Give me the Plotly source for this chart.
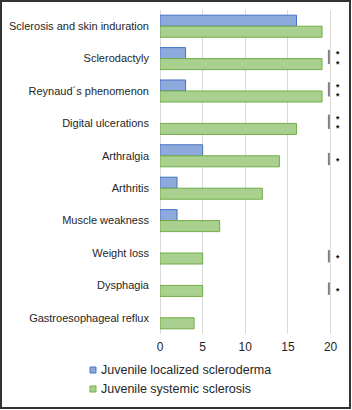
import plotly.graph_objects as go

categories = ["Sclerosis and skin induration", "Sclerodactyly", "Reynaud\u00b4s phenomenon",
              "Digital ulcerations", "Arthralgia", "Arthritis", "Muscle weakness",
              "Weight loss", "Dysphagia", "Gastroesophageal reflux"]
localized = [16, 3, 3, 0, 5, 2, 2, 0, 0, 0]
systemic = [19, 19, 19, 16, 14, 12, 7, 5, 5, 4]
significance = ["", "**", "**", "**", "*", "", "", "*", "*", ""]
x_ticks = [0, 5, 10, 15, 20]
series_names = ["Juvenile localized scleroderma", "Juvenile systemic sclerosis"]
fills = ["#8EA9DB", "#A9D08E"]
edges = ["#4472C4", "#70AD47"]

FONT = "Liberation Sans, Arial, sans-serif"
W, H = 352, 410
ML, MR, MT, MB = 160, 18, 10, 76
XMAX = 20.4
pw, ph = W - ML - MR, H - MT - MB


def px_x(px):
    return (px - ML) / pw


def px_y(py):
    return (H - MB - py) / ph


fig = go.Figure()
for vals, name, fc, ec in zip([localized, systemic], series_names, fills, edges):
    fig.add_trace(go.Bar(y=categories, x=vals, orientation="h", name=name,
                         marker=dict(color=fc, line=dict(color=ec, width=[1 if v else 0 for v in vals]))))

shapes = []
annotations = []
for i, s in enumerate(significance):
    if not s:
        continue
    if len(s) == 2:
        yl0, yl1, stars = i - 0.27, i + 0.17, [i - 0.2, i + 0.095]
    else:
        yl0, yl1, stars = i - 0.09, i + 0.29, [i + 0.1]
    shapes.append(dict(type="line", xref="x", yref="y", x0=19.8, x1=19.8, y0=yl0, y1=yl1,
                       line=dict(color="#808080", width=2)))
    for ys in stars:
        annotations.append(dict(x=20.85 / XMAX, y=ys, xref="paper", yref="y", text="<b>*</b>",
                                showarrow=False, font=dict(family=FONT, size=8.5, color="#000"),
                                xanchor="center", yanchor="middle", yshift=-2, borderpad=0))

# custom legend
for k, (name, fc, ec) in enumerate(zip(series_names, fills, edges)):
    cy = 370 + 19 * k
    shapes.append(dict(type="rect", xref="paper", yref="paper",
                       x0=px_x(90), x1=px_x(96), y0=px_y(cy + 3), y1=px_y(cy - 3),
                       fillcolor=fc, line=dict(color=ec, width=1)))
    annotations.append(dict(x=px_x(99), y=px_y(cy), xref="paper", yref="paper", text=name,
                            showarrow=False, xanchor="left", yanchor="middle",
                            font=dict(family=FONT, size=12.5, color="#262626")))

# outer frame
shapes.append(dict(type="rect", xref="paper", yref="paper",
                   x0=px_x(1), x1=px_x(W - 2), y0=px_y(H - 2), y1=px_y(1),
                   line=dict(color="#333", width=2), fillcolor="rgba(0,0,0,0)"))

fig.update_layout(
    width=W, height=H, margin=dict(l=ML, r=MR, t=MT, b=MB, autoexpand=False),
    paper_bgcolor="white", plot_bgcolor="white",
    barmode="group", bargap=0.32, bargroupgap=0,
    font=dict(family=FONT, size=11, color="#262626"),
    showlegend=False,
    shapes=shapes, annotations=annotations,
)
fig.update_xaxes(range=[0, XMAX], tickvals=x_ticks, showgrid=True, gridcolor="#D9D9D9",
                 zeroline=True, zerolinecolor="#D9D9D9", zerolinewidth=1, showline=False,
                 ticks="", tickfont=dict(size=12), ticklabelstandoff=4)
fig.update_yaxes(autorange="reversed", ticks="", showline=False, ticklabelstandoff=10,
                 tickfont=dict(size=11))

fig.write_html("out.html")
